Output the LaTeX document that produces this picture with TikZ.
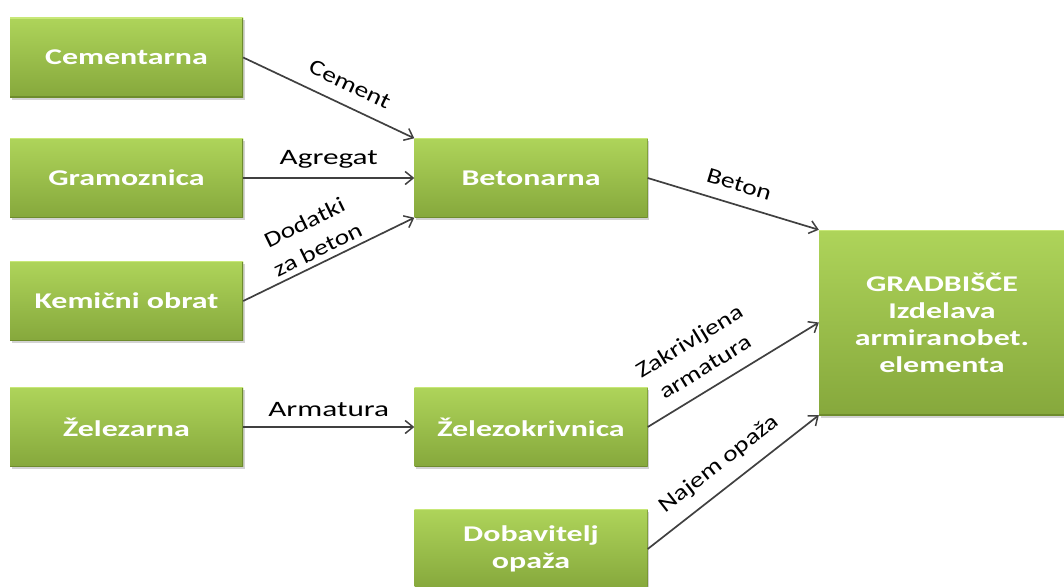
\documentclass[tikz,border=0pt]{standalone}
\usepackage{fontspec}
\newfontfamily\boxfont{Carlito}[FakeStretch=1.42]
\newfontfamily\labelfont{Carlito}[FakeStretch=1.42]
\newfontfamily\slantlabelfont{Carlito}[FakeStretch=1.25]
\usetikzlibrary{arrows.meta,shadows}

\definecolor{greenTop}{RGB}{174,212,90}
\definecolor{greenBot}{RGB}{134,168,60}
\definecolor{greenHi}{RGB}{200,232,120}
\definecolor{greenLo}{RGB}{110,140,45}
\definecolor{arrowgray}{RGB}{64,64,64}

\begin{document}
\begin{tikzpicture}[x=1pt,y=-1pt,
  stage/.style={rectangle, minimum width=233pt, minimum height=79pt,
    top color=greenTop, bottom color=greenBot, draw=none,
    text=white, align=center,
    font=\boxfont\bfseries\fontsize{22.5}{27}\selectfont,
    drop shadow={shadow xshift=1.5pt, shadow yshift=-2.5pt, opacity=0.35},
    path picture={
      \draw[greenHi, line width=1.5pt]
        (path picture bounding box.north west) -- (path picture bounding box.north east);
      \draw[greenLo, line width=1.2pt]
        (path picture bounding box.south west) -- (path picture bounding box.south east)
        -- (path picture bounding box.north east);
    }},
  flow/.style={draw=arrowgray, line width=1.7pt,
    -{Straight Barb[length=8pt,width=13pt,line width=1.5pt]}},
  tag/.style={font=\labelfont\fontsize{22}{27}\selectfont, text=black,
    align=center, sloped, above},
  slanttag/.style={tag, font=\slantlabelfont\fontsize{22}{30}\selectfont}
]
\clip (0,0) rectangle (1064,586);
\useasboundingbox (0,0) rectangle (1064,586);

% suppliers
\node[stage] (cem) at (126.5,57.5)  {Cementarna};
\node[stage] (gra) at (126.5,178)   {Gramoznica};
\node[stage] (kem) at (126.5,301)   {Kemični obrat};
\node[stage] (zel) at (126.5,427)   {Železarna};

% intermediate plants
\node[stage] (bet) at (531,178)     {Betonarna};
\node[stage] (zk)  at (531,427)     {Železokrivnica};
\node[stage] (dob) at (531,549)     {Dobavitelj\\opaža};

% construction site
\node[stage, minimum width=246pt, minimum height=185pt] (grad) at (942,322.5)
  {GRADBIŠČE\\Izdelava\\armiranobet.\\elementa};

% material flows
\draw[flow] (cem.east) -- node[slanttag, pos=0.57, yshift=10pt] {Cement} (bet.north west);
\draw[flow] (gra.east) -- node[tag, yshift=6pt] {Agregat} (bet.west);
\draw[flow] (kem.east) -- node[slanttag, pos=0.47, yshift=2pt] {Dodatki\\za beton} (bet.south west);
\draw[flow] (zel.east) -- node[tag, yshift=6pt] {Armatura} (zk.west);
\draw[flow] (bet.east) -- node[slanttag, yshift=9pt] {Beton} (grad.north west);
\draw[flow] (zk.east)  -- node[slanttag, pos=0.4, yshift=10pt] {Zakrivljena\\armatura} (grad.west);
\draw[flow] (dob.east) -- node[slanttag, pos=0.5, yshift=9pt] {Najem opaža} (grad.south west);
\end{tikzpicture}
\end{document}
